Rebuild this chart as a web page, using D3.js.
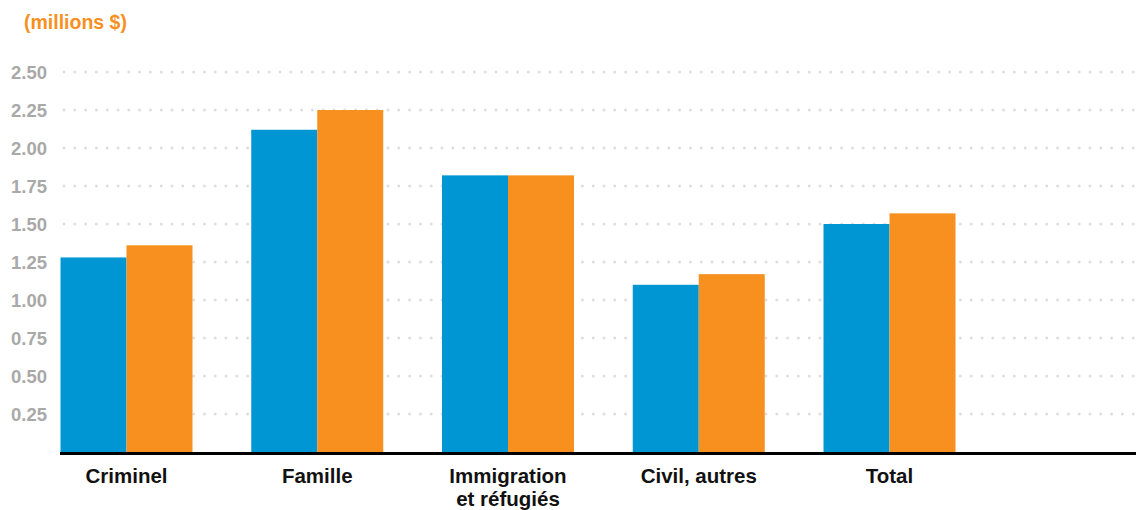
<!DOCTYPE html>
<html>
<head>
<meta charset="utf-8">
<script src="https://cdn.jsdelivr.net/npm/d3@7"></script>
<style>
  html, body { margin: 0; padding: 0; background: #fff; }
  svg { display: block; font-family: "Liberation Sans", Arial, Helvetica, sans-serif; }
</style>
</head>
<body>
<svg id="chart" width="1136" height="510"></svg>
<script>
// Catégories et valeurs (millions $)
const categories = ["Criminel", "Famille", "Immigration\net réfugiés", "Civil, autres", "Total"];
const seriesA = [1.28, 2.12, 1.82, 1.10, 1.50];
const seriesB = [1.36, 2.25, 1.82, 1.17, 1.57];
const yTicks = [0.25, 0.5, 0.75, 1.0, 1.25, 1.5, 1.75, 2.0, 2.25, 2.5];
const unitLabel = "(millions $)";

const colorA = "#0096d3";
const colorB = "#f7901e";

const svg = d3.select("#chart");
const W = 1136;
const left = 60, baseline = 452;

const y = d3.scaleLinear().domain([0, 2.5]).range([baseline, 72]);
const x = d3.scaleBand().domain(categories).range([left + 0.5, left + 0.5 + 190.75 * 5]).paddingInner(0).paddingOuter(0);
const barW = 66;

// Lignes de repère pointillées
svg.append("g")
  .selectAll("line")
  .data(yTicks)
  .join("line")
  .attr("x1", 64).attr("x2", W)
  .attr("y1", d => y(d)).attr("y2", d => y(d))
  .attr("stroke", "#dedede")
  .attr("stroke-width", 3)
  .attr("stroke-linecap", "round")
  .attr("stroke-dasharray", "0 10.8");

// Étiquettes de l'axe vertical
const yAxis = d3.axisLeft(y).tickValues(yTicks).tickFormat(d3.format(".2f")).tickSize(0).tickPadding(0);
const gy = svg.append("g").attr("transform", "translate(47,0)").call(yAxis);
gy.select(".domain").remove();
gy.selectAll("text")
  .attr("fill", "#a9a9a9")
  .attr("font-size", 18.5)
  .attr("font-weight", "bold")
  .attr("font-family", "'Liberation Sans', Arial, sans-serif")
  .attr("dy", "0.36em");

// Barres
const groups = svg.append("g").selectAll("g")
  .data(categories)
  .join("g")
  .attr("transform", d => `translate(${x(d)},0)`);

groups.append("rect")
  .attr("x", 0)
  .attr("width", barW)
  .attr("y", (d, i) => y(seriesA[i]))
  .attr("height", (d, i) => baseline - y(seriesA[i]))
  .attr("fill", colorA);

groups.append("rect")
  .attr("x", barW)
  .attr("width", barW)
  .attr("y", (d, i) => y(seriesB[i]))
  .attr("height", (d, i) => baseline - y(seriesB[i]))
  .attr("fill", colorB);

// Ligne de base
svg.append("line")
  .attr("x1", left).attr("x2", W)
  .attr("y1", baseline + 1.5).attr("y2", baseline + 1.5)
  .attr("stroke", "#000").attr("stroke-width", 3);

// Étiquettes des catégories
const labels = groups.append("text")
  .attr("x", barW)
  .attr("y", 483)
  .attr("text-anchor", "middle")
  .attr("font-size", 20.5)
  .attr("font-weight", "bold")
  .attr("fill", "#111");
labels.selectAll("tspan")
  .data(d => d.split("\n"))
  .join("tspan")
  .attr("x", barW)
  .attr("dy", (d, i) => i === 0 ? 0 : 23)
  .text(d => d);

// Unité
svg.append("text")
  .attr("x", 24).attr("y", 29)
  .attr("fill", colorB)
  .attr("font-size", 19.5)
  .attr("font-weight", "bold")
  .text(unitLabel);
</script>
</body>
</html>
